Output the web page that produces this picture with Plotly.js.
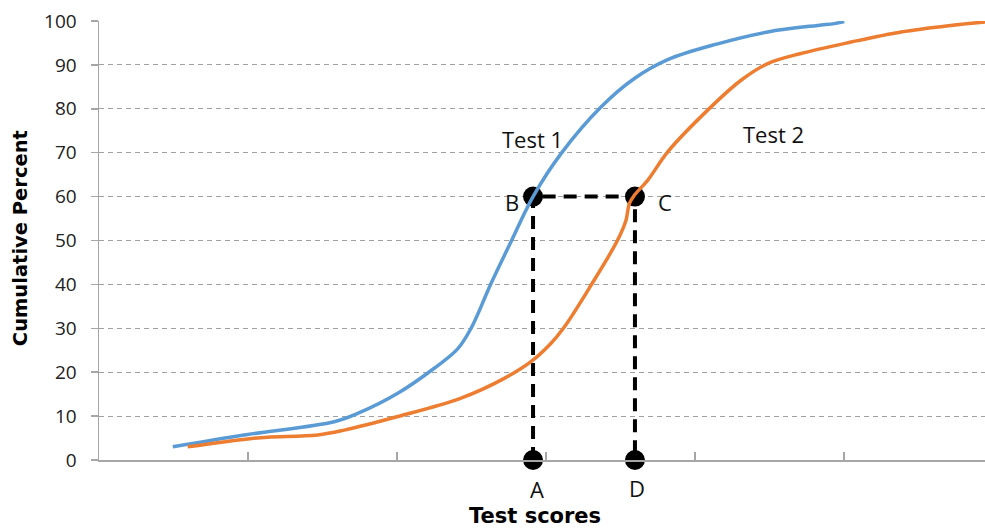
<!DOCTYPE html>
<html>
<head>
<meta charset="utf-8">
<script src="https://cdn.plot.ly/plotly-3.0.1.min.js"></script>
<style>html,body{margin:0;padding:0;background:#fff;}#chart{width:985px;height:529px;}</style>
</head>
<body>
<div id="chart"></div>
<script>
// Test scores axis in units of tick intervals (no tick labels in the original)
const test1X = [0.495, 0.998, 1.579, 1.736, 2.005, 2.250, 2.407, 2.497, 2.631, 2.765, 2.913, 3.101, 3.369, 3.593, 3.817, 4.152, 4.488, 4.823, 4.935, 5.002];
const test1Y = [3.0, 5.8, 8.7, 10.6, 15.2, 20.9, 25.3, 30.0, 40.2, 49.7, 60.0, 69.8, 80.4, 86.9, 91.2, 94.8, 97.5, 99.0, 99.4, 99.9];
const test2X = [0.595, 0.998, 1.132, 1.468, 1.646, 2.005, 2.430, 2.720, 2.899, 3.034, 3.123, 3.302, 3.481, 3.537, 3.559, 3.593, 3.682, 3.817, 4.085, 4.309, 4.488, 4.711, 5.047, 5.383, 5.718, 5.953];
const test2Y = [3.0, 4.8, 5.2, 5.7, 6.8, 9.9, 14.1, 18.6, 22.4, 26.6, 30.3, 39.8, 50.1, 54.6, 58.4, 60.3, 63.7, 70.2, 79.7, 86.5, 90.3, 92.6, 95.2, 97.5, 99.0, 99.8];
// Points A, B, C, D
const pointX = [2.913, 2.913, 3.597, 3.597];
const pointY = [0, 60, 60, 0];
const pointLabels = ['A', 'B', 'C', 'D'];
const yTicks = [0, 10, 20, 30, 40, 50, 60, 70, 80, 90, 100];
const xTicks = [0, 1, 2, 3, 4, 5, 6];
const curveLabels = ['Test 1', 'Test 2'];
const curveLabelX = [2.91, 4.53];
const curveLabelY = [73.2, 74.2];

const font = '"Open Sans", Lato, sans-serif';
const boldFont = '"DejaVu Sans", sans-serif';
const traces = [
  {x: pointX, y: pointY, mode: 'lines', line: {color: '#000', width: 4, dash: '13px,8px'}, hoverinfo: 'skip', cliponaxis: false},
  {x: pointX, y: pointY, mode: 'markers', marker: {color: '#000', size: 20}, cliponaxis: false},
  {x: test1X, y: test1Y, mode: 'lines', line: {color: '#5B9BD5', width: 3.5, shape: 'spline', smoothing: 1}, cliponaxis: false},
  {x: test2X, y: test2Y, mode: 'lines', line: {color: '#ED7D31', width: 3.5, shape: 'spline', smoothing: 1}, cliponaxis: false}
];

const ann = [];
ann.push({x: curveLabelX[0], y: curveLabelY[0], text: curveLabels[0]});
ann.push({x: curveLabelX[1], y: curveLabelY[1], text: curveLabels[1]});
// B and C labels beside points, A and D below
ann.push({x: pointX[1], y: pointY[1], text: pointLabels[1], xshift: -21, yshift: -5});
ann.push({x: pointX[2], y: pointY[2], text: pointLabels[2], xshift: 30, yshift: -5});
ann.push({x: pointX[0], y: pointY[0], text: pointLabels[0], xshift: 4, yshift: -29});
ann.push({x: pointX[3], y: pointY[3], text: pointLabels[3], xshift: 2, yshift: -28});
ann.forEach(a => { a.xref = 'x'; a.yref = 'y'; a.showarrow = false; a.font = {family: font, size: 22, color: '#111'}; });
ann.push({xref: 'paper', yref: 'paper', x: (534 - 98) / 886, y: -56 / 439.3, xanchor: 'center', yanchor: 'middle', text: '<b>Test scores</b>', showarrow: false, font: {family: boldFont, size: 21, color: '#000'}});
ann.push({xref: 'paper', yref: 'paper', x: -79 / 886, y: (460 - 238) / 439.3, xanchor: 'center', yanchor: 'middle', textangle: -90, text: '<b>Cumulative Percent</b>', showarrow: false, font: {family: boldFont, size: 19.5, color: '#000'}});

const layout = {
  width: 985, height: 529,
  margin: {l: 99, r: 0, t: 20.7, b: 69, pad: 0},
  paper_bgcolor: '#fff', plot_bgcolor: '#fff',
  showlegend: false,
  xaxis: {range: [0, 886 / 149], tickvals: xTicks, showticklabels: false, ticks: 'inside', ticklen: 8, tickcolor: '#A6A6A6', tickwidth: 1.5,
          showgrid: false, zeroline: false, showline: true, linecolor: '#A6A6A6', linewidth: 1.5, fixedrange: true},
  yaxis: {range: [0, 100], tickvals: yTicks, ticks: 'outside', ticklen: 7, tickcolor: '#A6A6A6', tickwidth: 1.5,
          showgrid: true, gridcolor: '#A0A0A0', griddash: '5px,4px', gridwidth: 1, zeroline: false,
          showline: true, linecolor: '#A6A6A6', linewidth: 1.5, ticklabelstandoff: 10,
          tickfont: {family: font, size: 19, color: '#222'}, fixedrange: true},
  annotations: ann
};
Plotly.newPlot('chart', traces, layout, {displayModeBar: false, staticPlot: true});
</script>
</body>
</html>
